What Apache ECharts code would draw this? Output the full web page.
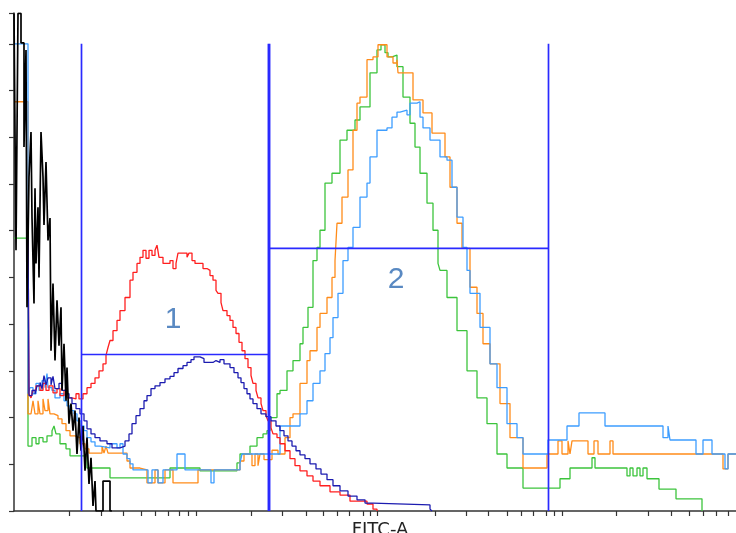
<!DOCTYPE html>
<html><head><meta charset="utf-8">
<script src="https://cdn.jsdelivr.net/npm/echarts@6/dist/echarts.min.js"></script>
<style>html,body{margin:0;padding:0;background:#fff}#c{width:736px;height:533px}</style>
</head><body><div id="c"></div>
<script>
// x: FITC-A channel, y: count (scaled)
const xTickChannels = [55.3,87.7,109.3,127.7,141.7,154.3,165.3,174.3,182,237.7,268.7,292.7,309.3,323.3,335.3,349.3,356,363.7,421,452.7,474.3,493.3,507,519.3,532.7,540.3,548.7,602.7,634.3,657.7,675.3,689.3,702.7,714.3];

const blackHist = [[0,106.5],[2,55.8],[4,106.5],[7,100.2],[10,77.9],[12,98.7],[13,43.6],[15,71.5],[17,81.1],[18,62.9],[20,44.4],[21,69.1],[22,53.0],[24,65.0],[25,50.0],[27,81.1],[29,71.5],[30,61.2],[32,74.7],[34,57.9],[36,62.7],[37,34.3],[39,48.7],[41,32.2],[43,45.1],[45,35.4],[47,43.6],[48,25.8],[50,35.8],[52,23.6],[53,30.7],[55,18.7],[57,23.0],[59,17.2],[61,21.5],[63,12.2],[65,20.0],[67,12.9],[69,18.2],[71,8.6],[73,15.7],[75,5.8],[77,11.4],[79,1.1],[81,6.4],[82,0],[89,6.4],[96,0],[98,0]];

const redHist = [[14,62],[15,25.1],[17,24.2],[19,25.8],[22,26.8],[26,25.8],[29,27.3],[32,25.8],[35,26.8],[39,25.3],[43,26.2],[46,24.7],[50,25.8],[53,24.2],[58,24.0],[62,25.1],[65,24.0],[69,25.1],[73,26.4],[77,27.3],[81,28.5],[85,30.0],[89,31.5],[92,33.3],[94,35.0],[96,36.5],[99,38.6],[103,40.8],[106,42.9],[111,45.7],[116,49.4],[119,51.1],[123,53.0],[126,54.3],[129,55.8],[132,54.1],[135,55.8],[138,54.7],[141,55.8],[143,56.9],[145,54.3],[149,53.0],[156,53.6],[159,51.9],[162,53.0],[164,55.2],[173,54.3],[175,55.2],[178,53.6],[181,53.0],[189,51.9],[193,51.5],[196,50.4],[199,49.4],[202,47.2],[204,46.6],[207,44.6],[209,42.9],[213,41.8],[216,40.8],[219,39.3],[222,38.0],[225,36.1],[228,34.3],[231,32.6],[234,30.7],[237,29.0],[239,27.3],[242,25.8],[244,24.2],[247,23.0],[249,21.5],[252,20.4],[254,19.3],[257,17.8],[259,16.5],[263,15.7],[266,14.4],[271,12.9],[276,11.2],[281,9.7],[286,8.6],[293,7.5],[299,6.4],[306,5.4],[316,4.1],[326,3.4],[336,2.1],[353,1.5],[359,0.4],[363,0]];

const navyHist = [[14,62],[15,24.7],[18,25.8],[21,25.1],[23,26.8],[26,27.5],[28,26.2],[30,29.0],[32,27.0],[34,28.5],[37,27.0],[39,28.8],[41,26.2],[45,27.3],[48,25.8],[52,25.1],[55,24.2],[58,23.0],[62,21.9],[66,20.8],[70,19.3],[73,17.6],[77,16.5],[81,15.7],[86,15.0],[93,14.4],[98,13.5],[106,13.9],[111,15.0],[115,16.5],[118,18.7],[122,20.4],[126,21.9],[130,23.6],[133,24.7],[137,26.2],[141,26.8],[146,27.5],[151,28.3],[156,28.8],[160,29.6],[164,30.5],[169,31.1],[173,31.8],[177,32.4],[180,33.0],[186,32.6],[190,31.8],[199,32.2],[202,31.8],[206,32.4],[210,31.5],[216,30.7],[220,29.6],[224,28.5],[227,27.5],[230,26.2],[233,25.1],[236,24.0],[239,23.0],[243,21.9],[247,20.8],[252,20.2],[257,19.3],[262,18.2],[266,17.2],[270,16.1],[274,15.0],[278,13.9],[282,12.9],[286,12.0],[291,11.2],[296,10.1],[302,9.0],[307,7.9],[313,6.7],[319,5.4],[326,4.3],[334,3.2],[343,2.4],[351,1.7],[359,1.3],[416,0.4],[418,0]];

const lightBlueHist = [[0,100],[14,25.1],[16,26.4],[19,25.1],[22,27.3],[25,25.8],[28,27.9],[31,26.4],[33,29.4],[34,26.4],[38,25.8],[41,24.2],[46,25.1],[50,23.6],[53,22.5],[56,21.5],[60,20.8],[63,19.3],[67,18.2],[70,17.2],[73,15.7],[77,14.8],[81,13.9],[86,13.5],[96,14.4],[103,13.5],[106,14.4],[109,12.2],[113,11.2],[116,10.1],[119,8.8],[134,6.0],[138,8.8],[144,6.0],[149,8.8],[163,12.2],[171,8.8],[197,6.0],[200,8.8],[226,10.3],[228,12.2],[266,18.2],[286,20.8],[293,23.6],[299,27.3],[306,30.0],[311,33.7],[316,37.1],[319,41.4],[324,46.6],[329,53.6],[334,56.4],[339,60.7],[346,67.2],[353,70.2],[356,75.8],[363,81.5],[373,82.0],[378,84.3],[383,85.4],[386,85.8],[393,84.8],[396,87.3],[403,87.6],[406,84.3],[409,82.0],[416,79.4],[426,75.8],[433,75.1],[438,69.3],[443,62.9],[449,56.4],[453,51.5],[456,46.6],[466,39.3],[476,31.5],[483,26.4],[493,18.7],[503,15.7],[509,12.2],[534,15.2],[553,18.2],[565,21.0],[591,18.2],[649,15.7],[654,18.2],[656,15.2],[682,12.2],[689,15.2],[698,12.2],[711,9.0],[714,12.2],[722,12.2]];

const orangeHist = [[0,87.6],[14,20.8],[17,20.4],[19,23.6],[21,20.8],[24,23.6],[26,20.8],[29,24.0],[31,21.5],[34,24.0],[36,20.8],[40,20.4],[44,19.7],[48,18.7],[52,17.2],[56,16.1],[61,15.7],[66,14.4],[71,13.3],[75,12.4],[88,13.9],[90,12.4],[92,13.9],[94,12.4],[113,10.7],[116,9.2],[126,8.8],[133,6.0],[141,8.8],[144,6.0],[151,8.8],[159,6.0],[184,8.8],[226,10.7],[230,12.2],[238,9.7],[241,12.2],[244,9.7],[246,12.2],[250,11.0],[258,13.0],[264,12.2],[271,15.7],[276,20.0],[279,20.8],[286,27.3],[293,32.2],[296,34.3],[303,39.3],[306,42.3],[313,45.7],[318,50.0],[321,53.6],[323,61.6],[328,67.2],[334,73.0],[339,81.5],[343,87.3],[346,88.6],[353,96.6],[359,97.2],[364,99.8],[368,99.8],[373,97.2],[379,95.9],[383,96.6],[384,93.8],[393,93.8],[399,88.0],[409,85.2],[418,80.9],[431,75.8],[436,69.3],[443,61.6],[448,56.2],[456,47.9],[463,42.3],[469,35.8],[476,31.5],[486,23.0],[496,15.7],[509,9.2],[533,12.2],[544,15.0],[548,12.2],[554,15.0],[556,12.2],[558,15.0],[574,12.2],[580,15.0],[584,12.2],[596,15.0],[599,12.2],[709,9.0],[714,12.2],[722,12.2]];

const greenHist = [[0,58.4],[14,13.9],[18,15.7],[22,14.4],[25,15.7],[29,14.8],[33,16.1],[38,17.2],[40,18.2],[42,16.5],[46,14.4],[52,13.3],[56,11.8],[73,9.2],[96,7.1],[156,9.2],[186,8.6],[223,10.3],[226,12.2],[236,13.9],[243,15.7],[249,16.5],[253,17.2],[256,20.0],[263,25.1],[266,25.8],[273,30.0],[279,32.2],[286,35.8],[289,39.3],[294,43.6],[299,53.6],[303,56.4],[306,60.1],[311,70.2],[318,72.3],[326,79.4],[333,81.5],[341,83.7],[346,86.5],[356,93.8],[363,98.7],[367,99.8],[371,98.1],[374,97.2],[378,97.6],[383,95.1],[389,88.6],[396,83.0],[401,77.9],[406,72.3],[413,65.9],[419,60.1],[424,53.0],[426,51.5],[433,45.7],[443,38.6],[453,30.0],[463,24.2],[473,18.7],[483,12.2],[493,9.2],[509,4.9],[546,6.9],[556,9.2],[578,11.4],[581,9.2],[613,7.5],[616,9.2],[619,7.5],[623,9.2],[626,7.5],[629,9.2],[633,6.9],[645,4.7],[662,2.6],[688,0]];

// gates: channel bounds, count level of the horizontal bar, top of the markers
const gate1 = {label: '1', from: 67.5, to: 254.4, level: 33.5, top: 100, labelAt: [159, 41]};
const gate2 = {label: '2', from: 255.6, to: 534.5, level: 56.2, top: 100, labelAt: [382, 49.6]};
const gates = [gate1, gate2];

const histSeries = [
  {name: 'green', data: greenHist, color: '#3cc43c', width: 1.3},
  {name: 'orange', data: orangeHist, color: '#ff8c1a', width: 1.3},
  {name: 'lightblue', data: lightBlueHist, color: '#3d9dff', width: 1.3},
  {name: 'red', data: redHist, color: '#ff1f1f', width: 1.3},
  {name: 'navy', data: navyHist, color: '#1c1cb0', width: 1.3},
  {name: 'black', data: blackHist, color: '#000000', width: 1.7}
];

const series = histSeries.map(s => ({
  name: s.name, type: 'line', step: 'end', data: s.data, showSymbol: false, symbol: 'none',
  lineStyle: {color: s.color, width: s.width}, silent: true
}));

gates.forEach(g => {
  const segs = [
    [[g.from, 0], [g.from, g.top]],
    [[g.to, 0], [g.to, g.top]],
    [[g.from, g.level], [g.to, g.level]]
  ];
  segs.forEach(seg => series.push({
    type: 'line', data: seg, showSymbol: false, symbol: 'none', silent: true,
    lineStyle: {color: '#2a2aff', width: 1.7}, z: 5
  }));
});

series.push({
  type: 'scatter', symbolSize: 1, itemStyle: {color: 'rgba(0,0,0,0)'}, silent: true, z: 6,
  data: gates.map(g => ({name: g.label, value: g.labelAt})),
  label: {show: true, position: 'inside', formatter: '{b}', color: '#2f6cb3',
          fontSize: 30, fontFamily: 'Liberation Sans, Arial, sans-serif'}
});

const chart = echarts.init(document.getElementById('c'), null, {renderer: 'canvas'});
chart.setOption({
  backgroundColor: '#ffffff',
  animation: false,
  grid: {left: 14, right: 0, top: 13, bottom: 22, containLabel: false, outerBoundsMode: 'none'},
  xAxis: {
    type: 'value', min: 0, max: 722,
    name: 'FITC-A', nameLocation: 'middle', nameGap: 10,
    nameTextStyle: {color: '#222', fontSize: 18, fontFamily: 'DejaVu Sans, Verdana, sans-serif', padding: [0, 0, 0, 10]},
    axisLine: {show: true, lineStyle: {color: '#333', width: 1.5}},
    axisTick: {show: true, inside: false, length: 5, customValues: xTickChannels, lineStyle: {color: '#333', width: 1.2}},
    axisLabel: {show: false},
    splitLine: {show: false}
  },
  yAxis: {
    type: 'value', min: 0, max: 106.6, interval: 10,
    axisLine: {show: true, lineStyle: {color: '#333', width: 1.5}},
    axisTick: {show: true, inside: false, length: 5, lineStyle: {color: '#333', width: 1.2}},
    axisLabel: {show: false},
    splitLine: {show: false}
  },
  series: series
});
</script>
</body></html>
